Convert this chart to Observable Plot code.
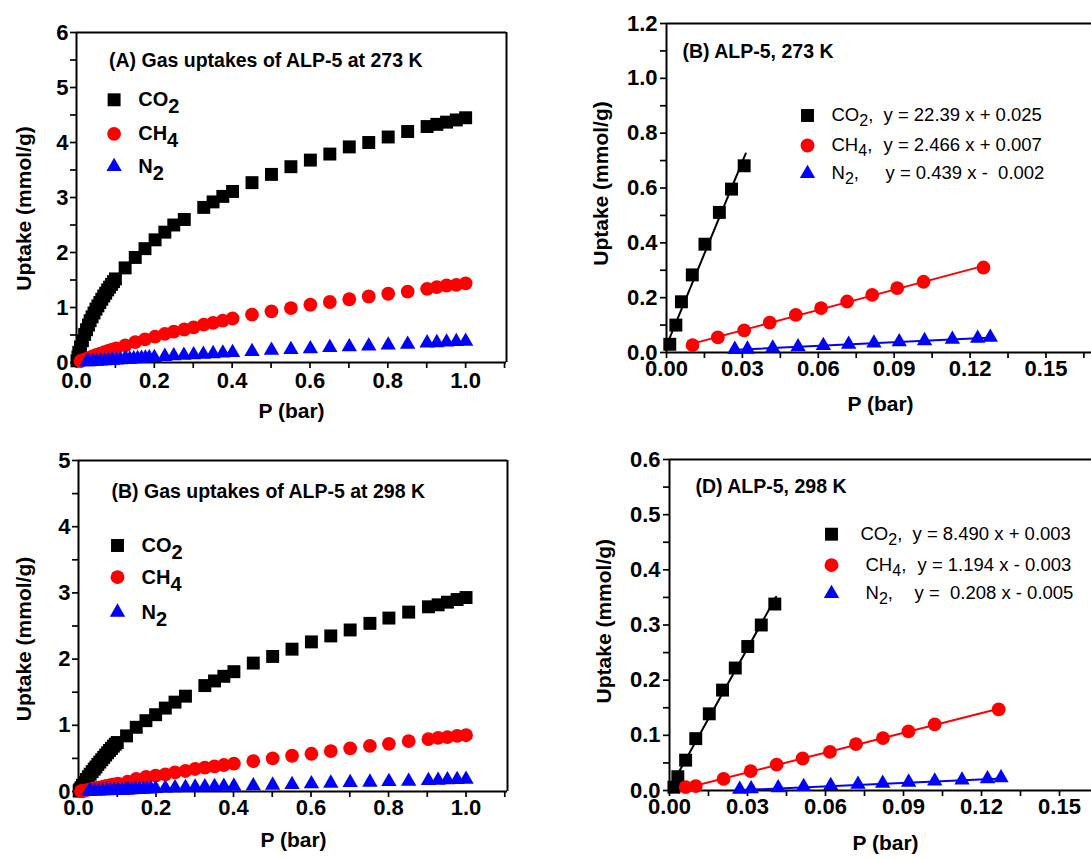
<!DOCTYPE html>
<html>
<head>
<meta charset="utf-8">
<script src="https://cdn.jsdelivr.net/npm/d3@7"></script>
<script src="https://cdn.jsdelivr.net/npm/@observablehq/plot@0.6"></script>
<style>
  body { margin: 0; background: #fff; }
  #wrap { position: relative; width: 1091px; height: 858px; overflow: hidden; background: #fff; }
  .panel { position: absolute; }
  svg text { white-space: pre; }
</style>
</head>
<body>
<div id="wrap"></div>
<script>
// ---------------- DATA ----------------
// 273 K isotherms (panel A); low-pressure subset shown in panel B
const co2_273_p = [0.0013,0.0037,0.0059,0.0102,0.0152,0.0209,0.0257,0.0307,0.035,0.04,0.045,0.05,0.055,0.06,0.065,0.07,0.075,0.08,0.085,0.09,0.095,0.1,0.125,0.151,0.176,0.202,0.227,0.25,0.277,0.327,0.351,0.376,0.401,0.451,0.501,0.551,0.601,0.651,0.701,0.751,0.801,0.851,0.901,0.926,0.951,0.976,1.0];
const co2_273_u = [0.030,0.100,0.185,0.283,0.395,0.511,0.596,0.681,0.76,0.83,0.90,0.97,1.03,1.09,1.15,1.21,1.26,1.32,1.37,1.42,1.47,1.52,1.72,1.91,2.07,2.23,2.37,2.50,2.60,2.82,2.92,3.02,3.11,3.27,3.42,3.56,3.68,3.79,3.92,4.00,4.10,4.20,4.29,4.33,4.37,4.41,4.45];
const ch4_273_p = [0.0103,0.0203,0.0307,0.0408,0.0511,0.0611,0.0714,0.0813,0.0912,0.1016,0.1253,0.151,0.176,0.202,0.227,0.25,0.277,0.301,0.327,0.351,0.376,0.401,0.451,0.501,0.551,0.601,0.651,0.701,0.751,0.801,0.851,0.901,0.926,0.951,0.976,1.0];
const ch4_273_u = [0.027,0.055,0.081,0.109,0.137,0.162,0.186,0.210,0.235,0.258,0.310,0.37,0.42,0.47,0.52,0.56,0.60,0.64,0.69,0.72,0.76,0.80,0.87,0.93,0.99,1.05,1.10,1.15,1.20,1.25,1.29,1.34,1.37,1.40,1.41,1.44];
const n2_273_p = [0.027,0.032,0.042,0.052,0.062,0.072,0.082,0.092,0.102,0.113,0.123,0.128,0.137,0.147,0.157,0.167,0.177,0.187,0.2,0.227,0.25,0.276,0.301,0.326,0.351,0.376,0.401,0.451,0.501,0.551,0.601,0.651,0.701,0.751,0.801,0.851,0.901,0.926,0.951,0.976,1.0];
const n2_273_u = [0.011,0.012,0.016,0.021,0.025,0.030,0.034,0.039,0.043,0.048,0.052,0.055,0.06,0.065,0.07,0.075,0.08,0.085,0.09,0.11,0.12,0.13,0.14,0.15,0.16,0.17,0.18,0.20,0.22,0.235,0.25,0.27,0.285,0.30,0.315,0.33,0.355,0.36,0.37,0.38,0.385];

// 298 K isotherms (panel C); low-pressure subset shown in panel D
const co2_298_p = [0.0017,0.0032,0.0062,0.0101,0.0153,0.0204,0.0253,0.0301,0.0353,0.0405,0.045,0.05,0.055,0.06,0.065,0.07,0.075,0.08,0.085,0.09,0.095,0.1,0.124,0.149,0.174,0.199,0.224,0.249,0.276,0.326,0.351,0.375,0.401,0.451,0.501,0.551,0.601,0.651,0.701,0.752,0.801,0.852,0.903,0.928,0.952,0.977,1.0];
const co2_298_u = [0.006,0.025,0.055,0.094,0.139,0.182,0.222,0.261,0.300,0.338,0.37,0.41,0.445,0.48,0.515,0.55,0.585,0.62,0.65,0.685,0.715,0.74,0.84,0.97,1.07,1.16,1.26,1.35,1.44,1.60,1.67,1.74,1.81,1.94,2.04,2.15,2.26,2.35,2.44,2.54,2.62,2.71,2.79,2.82,2.86,2.90,2.93];
const ch4_298_p = [0.0062,0.0101,0.0208,0.0312,0.0412,0.0512,0.0617,0.0717,0.0821,0.0919,0.102,0.1266,0.149,0.174,0.199,0.224,0.249,0.276,0.301,0.326,0.351,0.375,0.401,0.451,0.501,0.551,0.601,0.651,0.701,0.752,0.801,0.852,0.903,0.928,0.952,0.977,1.0];
const ch4_298_u = [0.006,0.008,0.021,0.035,0.047,0.058,0.070,0.084,0.095,0.107,0.120,0.147,0.19,0.22,0.24,0.26,0.29,0.31,0.34,0.36,0.38,0.40,0.42,0.46,0.50,0.54,0.57,0.61,0.65,0.69,0.72,0.76,0.79,0.81,0.82,0.84,0.85];
const n2_298_p = [0.027,0.0314,0.0418,0.0516,0.062,0.0725,0.082,0.092,0.102,0.1125,0.1223,0.1275,0.137,0.147,0.157,0.167,0.177,0.187,0.199,0.224,0.249,0.276,0.301,0.326,0.351,0.375,0.401,0.451,0.501,0.551,0.601,0.651,0.701,0.752,0.801,0.852,0.903,0.928,0.952,0.977,1.0];
const n2_298_u = [0.002,0.003,0.005,0.007,0.009,0.011,0.013,0.015,0.017,0.019,0.021,0.023,0.025,0.028,0.031,0.034,0.037,0.04,0.045,0.05,0.055,0.06,0.065,0.07,0.073,0.077,0.08,0.085,0.095,0.105,0.115,0.125,0.135,0.14,0.15,0.155,0.165,0.17,0.175,0.18,0.185];

// number of low-pressure points used in the linear (Henry) fits
const lowCountB = {CO2: 8, CH4: 11, N2: 12};
const lowCountD = {CO2: 10, CH4: 12, N2: 12};

// linear fits: slope, intercept, fitted pressure range
const gases = ["CO2", "CH4", "N2"];
const fitSlopeB = [22.39, 2.466, 0.439];
const fitInterceptB = [0.025, 0.007, -0.002];
const fitStartB = [0.0, 0.0103, 0.026];
const fitEndB = [0.0313, 0.1253, 0.129];
const fitSlopeD = [8.490, 1.194, 0.208];
const fitInterceptD = [0.003, -0.003, -0.005];
const fitStartD = [0.0005, 0.006, 0.026];
const fitEndD = [0.041, 0.1266, 0.128];
const eqB = ["y = 22.39 x + 0.025", "y = 2.466 x + 0.007", "y = 0.439 x -  0.002"];
const eqD = ["y = 8.490 x + 0.003", "y = 1.194 x - 0.003", "y =  0.208 x - 0.005"];

// texts
const legendNamesAC = ["CO_2", "CH_4", "N_2"];
const legendNamesBD = ["CO_2,", "CH_4,", "N_2,"];
const titleA = "(A) Gas uptakes of ALP-5 at 273 K";
const titleB = "(B) ALP-5, 273 K";
const titleC = "(B) Gas uptakes of ALP-5 at 298 K";
const titleD = "(D) ALP-5, 298 K";
const yTitle = "Uptake (mmol/g)";
const xTitle = "P (bar)";

// ticks
const xTicksAC = [0,0.1,0.2,0.3,0.4,0.5,0.6,0.7,0.8,0.9,1.0,1.1];
const xLabelsAC = ["0.0","","0.2","","0.4","","0.6","","0.8","","1.0",""];
const xTicksBD = [0,0.015,0.03,0.045,0.06,0.075,0.09,0.105,0.12,0.135,0.15,0.165];
const xLabelsBD = ["0.00","","0.03","","0.06","","0.09","","0.12","","0.15",""];
const yTicksA = [0,0.5,1,1.5,2,2.5,3,3.5,4,4.5,5,5.5,6];
const yLabelsA = ["0","","1","","2","","3","","4","","5","","6"];
const yTicksB = [0,0.1,0.2,0.3,0.4,0.5,0.6,0.7,0.8,0.9,1.0,1.1,1.2];
const yLabelsB = ["0.0","","0.2","","0.4","","0.6","","0.8","","1.0","","1.2"];
const yTicksC = [0,0.5,1,1.5,2,2.5,3,3.5,4,4.5,5];
const yLabelsC = ["0","","1","","2","","3","","4","","5"];
const yTicksD = [0,0.05,0.1,0.15,0.2,0.25,0.3,0.35,0.4,0.45,0.5,0.55,0.6];
const yLabelsD = ["0.0","","0.1","","0.2","","0.3","","0.4","","0.5","","0.6"];

// ---------------- DRAWING ----------------
const FONT = "'Liberation Sans', Arial, Helvetica, sans-serif";
const SYM = {
  CO2: {symbol: "square", fill: "#000000", r: 7.3},
  CH4: {symbol: "circle", fill: "#ff0000", r: 6.9},
  N2: {symbol: "triangle", fill: "#0000ff", r: 5.7}
};
const rows = (p, u, n) => p.slice(0, n ?? p.length).map((x, i) => ({p: x, u: u[i]}));
const labeler = (ticks, labels) => { const m = new Map(ticks.map((t, i) => [t, labels[i]])); return d => m.get(d) ?? ""; };

function panel(cfg) {
  const marks = [
    Plot.ruleY([cfg.yDomain[0], cfg.yDomain[1]], {stroke: "#000", strokeWidth: 2}),
    Plot.ruleX(cfg.rightFrame ? cfg.xDomain : [cfg.xDomain[0]], {stroke: "#000", strokeWidth: 2}),
    Plot.axisX(cfg.xTicks, {tickSize: 6, tickPadding: cfg.xPad, strokeWidth: 1.7, tickFormat: labeler(cfg.xTicks, cfg.xLabels),
      fontSize: 22, fontWeight: "bold", fontFamily: FONT, fill: "#000", label: null}),
    Plot.axisY(cfg.yTicks, {tickSize: 6, tickPadding: cfg.yPad, strokeWidth: 1.7, tickFormat: labeler(cfg.yTicks, cfg.yLabels),
      fontSize: 22, fontWeight: "bold", fontFamily: FONT, fill: "#000", label: null})
  ];
  for (const f of cfg.fits || []) {
    marks.push(Plot.line([f.x0, f.x1].map(x => ({p: x, u: f.m * x + f.b})), {x: "p", y: "u", stroke: SYM[f.gas].fill, strokeWidth: 2}));
  }
  for (const s of cfg.series) {
    marks.push(Plot.dot(s.data, {x: "p", y: "u", symbol: SYM[s.gas].symbol, r: SYM[s.gas].r, fill: SYM[s.gas].fill}));
  }
  const T = (txt, o) => Plot.text([txt], {frameAnchor: "top-left", fill: "#000", fontFamily: FONT, lineAnchor: "middle", ...o});
  marks.push(T(cfg.title, {dx: cfg.titlePos[0], dy: cfg.titlePos[1], textAnchor: "start", fontSize: 19.5, fontWeight: "bold"}));
  marks.push(T(yTitle, {dx: cfg.yTitlePos[0], dy: cfg.yTitlePos[1], rotate: -90, textAnchor: "middle", fontSize: 21, fontWeight: "bold"}));
  marks.push(T(xTitle, {dx: cfg.xTitlePos[0], dy: cfg.xTitlePos[1], textAnchor: "middle", fontSize: 21, fontWeight: "bold"}));
  gases.forEach((g, i) => {
    marks.push(Plot.dot([g], {frameAnchor: "top-left", dx: cfg.legend.mx, dy: cfg.legend.rows[i], symbol: SYM[g].symbol, r: SYM[g].r, fill: SYM[g].fill}));
    marks.push(T(cfg.legend.names[i], {dx: cfg.legend.tx[i], dy: cfg.legend.rows[i], textAnchor: "start", fontSize: cfg.legend.size, fontWeight: cfg.legend.weight}));
    if (cfg.legend.eq) marks.push(T(cfg.legend.eq[i], {dx: cfg.legend.ex[i], dy: cfg.legend.rows[i], textAnchor: "start", fontSize: cfg.legend.size, fontWeight: cfg.legend.weight}));
  });
  const svg = Plot.plot({
    width: cfg.w, height: cfg.h,
    marginLeft: cfg.m[3], marginTop: cfg.m[0], marginRight: cfg.m[1], marginBottom: cfg.m[2],
    x: {domain: cfg.xDomain},
    y: {domain: cfg.yDomain},
    style: {background: "transparent", color: "#000", fontFamily: FONT, overflow: "visible"},
    marks
  });
  // subscripts (CO_2 -> CO with lowered 2)
  d3.select(svg).selectAll("text").each(function () {
    const t = this.textContent;
    if (!/_\d/.test(t)) return;
    const sel = d3.select(this);
    sel.text(null);
    t.split(/_(\d)/).forEach((part, i) => {
      if (!part) return;
      const ts = sel.append("tspan").text(part);
      if (i % 2 === 1) ts.attr("dy", cfg.legend.subShift).attr("font-size", cfg.legend.subSize);
      else if (i > 0) ts.attr("dy", -cfg.legend.subShift);
    });
  });
  svg.classList.add("panel");
  svg.style.left = cfg.left + "px";
  svg.style.top = cfg.top + "px";
  svg.style.position = "absolute";
  document.getElementById("wrap").appendChild(svg);
}

const fitsFrom = (m, b, x0, x1) => gases.map((g, i) => ({gas: g, m: m[i], b: b[i], x0: x0[i], x1: x1[i]}));

// Panel A
panel({
  left: 0, top: 0, w: 540, h: 430, m: [32, 34, 68, 76],
  xDomain: [0, 1.105], yDomain: [0, 6], rightFrame: true,
  xTicks: xTicksAC, xLabels: xLabelsAC, yTicks: yTicksA, yLabels: yLabelsA, xPad: 4, yPad: 2,
  series: [
    {gas: "CO2", data: rows(co2_273_p, co2_273_u)},
    {gas: "CH4", data: rows(ch4_273_p, ch4_273_u)},
    {gas: "N2", data: rows(n2_273_p, n2_273_u)}
  ],
  title: titleA, titlePos: [32.5, 28],
  yTitlePos: [-52, 176], xTitlePos: [215, 379],
  legend: {mx: 37.6, rows: [67.3, 101.3, 134], tx: [61.7, 61.7, 61.7], names: legendNamesAC, size: 20, weight: "bold", subSize: 20, subShift: 7}
});

// Panel B
panel({
  left: 540, top: 0, w: 551, h: 430, m: [23, 0, 78, 126],
  xDomain: [0, 0.168], yDomain: [0, 1.2], rightFrame: false,
  xTicks: xTicksBD, xLabels: xLabelsBD, yTicks: yTicksB, yLabels: yLabelsB, xPad: 2, yPad: 3,
  series: [
    {gas: "CO2", data: rows(co2_273_p, co2_273_u, lowCountB.CO2)},
    {gas: "CH4", data: rows(ch4_273_p, ch4_273_u, lowCountB.CH4)},
    {gas: "N2", data: rows(n2_273_p, n2_273_u, lowCountB.N2)}
  ],
  fits: fitsFrom(fitSlopeB, fitInterceptB, fitStartB, fitEndB),
  title: titleB, titlePos: [16, 28.7],
  yTitlePos: [-65, 160], xTitlePos: [214, 381],
  legend: {mx: 141, rows: [92, 122, 150], tx: [165, 165, 165], ex: [217, 217, 219], eq: eqB, names: legendNamesBD, size: 18.5, weight: "normal", subSize: 16, subShift: 5}
});

// Panel C
panel({
  left: 0, top: 430, w: 540, h: 428, m: [30, 33, 67, 78],
  xDomain: [0, 1.107], yDomain: [0, 5], rightFrame: true,
  xTicks: xTicksAC, xLabels: xLabelsAC, yTicks: yTicksC, yLabels: yLabelsC, xPad: 2, yPad: 2,
  series: [
    {gas: "CO2", data: rows(co2_298_p, co2_298_u)},
    {gas: "CH4", data: rows(ch4_298_p, ch4_298_u)},
    {gas: "N2", data: rows(n2_298_p, n2_298_u)}
  ],
  title: titleC, titlePos: [33, 31.7],
  yTitlePos: [-54, 178.5], xTitlePos: [215, 380],
  legend: {mx: 39, rows: [85, 116.7, 151.7], tx: [63, 63, 63], names: legendNamesAC, size: 20, weight: "bold", subSize: 20, subShift: 7}
});

// Panel D
panel({
  left: 540, top: 430, w: 551, h: 428, m: [29, 0, 68, 129],
  xDomain: [0, 0.1623], yDomain: [0, 0.6], rightFrame: false,
  xTicks: xTicksBD, xLabels: xLabelsBD, yTicks: yTicksD, yLabels: yLabelsD, xPad: 2, yPad: 3,
  series: [
    {gas: "CO2", data: rows(co2_298_p, co2_298_u, lowCountD.CO2)},
    {gas: "CH4", data: rows(ch4_298_p, ch4_298_u, lowCountD.CH4)},
    {gas: "N2", data: rows(n2_298_p, n2_298_u, lowCountD.N2)}
  ],
  fits: fitsFrom(fitSlopeD, fitInterceptD, fitStartD, fitEndD),
  title: titleD, titlePos: [26, 27.4],
  yTitlePos: [-65, 161.7], xTitlePos: [216, 383.7],
  legend: {mx: 162, rows: [74.7, 105.7, 134], tx: [191, 196, 196], ex: [243, 248, 245], eq: eqD, names: legendNamesBD, size: 18.5, weight: "normal", subSize: 16, subShift: 5}
});
</script>
</body>
</html>
